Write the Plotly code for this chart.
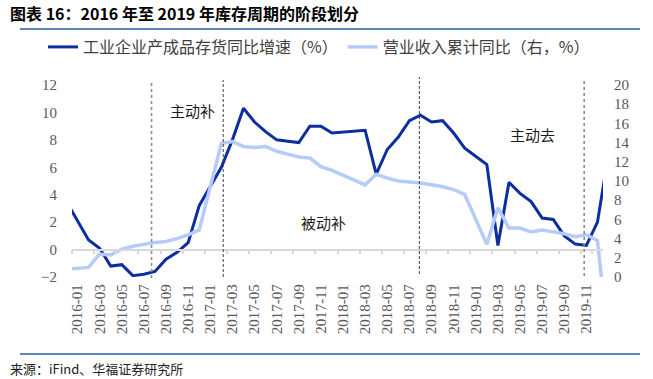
import plotly.graph_objects as go

# ---------------- data ----------------
months = [
    "2015-12",
    "2016-01", "2016-02", "2016-03", "2016-04", "2016-05", "2016-06",
    "2016-07", "2016-08", "2016-09", "2016-10", "2016-11", "2016-12",
    "2017-01", "2017-02", "2017-03", "2017-04", "2017-05", "2017-06",
    "2017-07", "2017-08", "2017-09", "2017-10", "2017-11", "2017-12",
    "2018-01", "2018-02", "2018-03", "2018-04", "2018-05", "2018-06",
    "2018-07", "2018-08", "2018-09", "2018-10", "2018-11", "2018-12",
    "2019-01", "2019-02", "2019-03", "2019-04", "2019-05", "2019-06",
    "2019-07", "2019-08", "2019-09", "2019-10", "2019-11", "2019-12",
    "2020-01", "2020-02",
]

# 工业企业产成品存货同比增速（%）  (no January releases -> None)
inventory_yoy = [
    3.5,
    None, 0.7, 0.1, -1.2, -1.1, -1.9, -1.8, -1.6, -0.7, -0.2, 0.5, 3.2,
    None, 6.0, 8.0, 10.3, 9.3, 8.6, 8.0, 7.9, 7.8, 9.0, 9.0, 8.5,
    None, 8.6, 8.7, 5.5, 7.3, 8.2, 9.4, 9.8, 9.3, 9.4, 8.5, 7.4,
    None, 6.2, 0.3, 4.9, 4.1, 3.5, 2.3, 2.2, 1.0, 0.4, 0.3, 2.0,
    None, 12.0,
]

# 营业收入累计同比（右，%）
revenue_cum_yoy = [
    0.8,
    None, 1.0, 2.4, 2.3, 2.9, 3.2, 3.4, 3.6, 3.7, 4.0, 4.4, 4.9,
    None, 13.9, 14.1, 13.6, 13.5, 13.6, 13.1, 12.8, 12.5, 12.4, 11.5, 11.1,
    None, 10.1, 9.6, 10.7, 10.3, 10.0, 9.9, 9.8, 9.6, 9.4, 9.1, 8.6,
    None, 3.4, 7.2, 5.1, 5.1, 4.7, 4.9, 4.7, 4.5, 4.2, 4.4, 3.8,
    None, -17.7,
]

tick_labels = [
    "2016-01", "2016-03", "2016-05", "2016-07", "2016-09", "2016-11",
    "2017-01", "2017-03", "2017-05", "2017-07", "2017-09", "2017-11",
    "2018-01", "2018-03", "2018-05", "2018-07", "2018-09", "2018-11",
    "2019-01", "2019-03", "2019-05", "2019-07", "2019-09", "2019-11",
]

series_names = ["工业企业产成品存货同比增速（%）", "营业收入累计同比（右，%）"]
phase_labels = ["主动补", "被动补", "主动去"]
title_text = "图表 16：2016 年至 2019 年库存周期的阶段划分"
source_text = "来源：iFind、华福证券研究所"

# ---------------- style ----------------
DARK_BLUE = "#0B2FA0"
LIGHT_BLUE = "#B7CBFA"
GRAY_TXT = "#595959"
AXIS_GRAY = "#D9D9D9"
RULE_BLUE = "#2A5CAA"
SERIF = "Liberation Serif"
CJK = "Noto Sans CJK SC"

W, H = 653, 379
PLOT_L, PLOT_R, PLOT_T, PLOT_B = 72, 603, 85, 277   # plot area in pixels
RULE_X = (20, 640)
RULE_Y = (29, 354)


def fx(px):
    return px / W


def fy(py):
    return 1 - py / H


Y_LO, Y_HI = -2, 12
zero_pos = fy(PLOT_B) + (0 - Y_LO) / (Y_HI - Y_LO) * (fy(PLOT_T) - fy(PLOT_B))

fig = go.Figure()
# decorative header/footer rules on a full-page pixel overlay
fig.add_trace(go.Scatter(
    x=[RULE_X[0], RULE_X[1], None, RULE_X[0], RULE_X[1]],
    y=[RULE_Y[0], RULE_Y[0], None, RULE_Y[1], RULE_Y[1]],
    mode="lines", line=dict(color=RULE_BLUE, width=1.6),
    xaxis="x3", yaxis="y3", showlegend=False, hoverinfo="skip",
))
fig.add_trace(go.Scatter(
    x=months, y=revenue_cum_yoy, name=series_names[1], mode="lines",
    line=dict(color=LIGHT_BLUE, width=3.5), connectgaps=True, yaxis="y2",
    legendrank=2,
))
fig.add_trace(go.Scatter(
    x=months, y=inventory_yoy, name=series_names[0], mode="lines",
    line=dict(color=DARK_BLUE, width=3), connectgaps=True, yaxis="y",
    legendrank=1,
))

# phase boundary lines (category index positions, pixel extents)
phase_lines = [
    (7.69, 278, 83, "#8C8C8C", "dot", 1.6),
    (14.17, 277, 80, "#404040", "3px,2px", 1),
    (31.90, 274, 77, "#404040", "3px,2px", 1),
    (46.80, 276, 80, "#8C8C8C", "dot", 1.6),
]
for xv, pb, pt, col, dash, wd in phase_lines:
    fig.add_shape(type="line", xref="x", yref="paper", x0=xv, x1=xv,
                  y0=fy(pb), y1=fy(pt), line=dict(color=col, dash=dash, width=wd))

annotations = [
    dict(text=phase_labels[0], x=fx(193), y=fy(110)),
    dict(text=phase_labels[1], x=fx(323), y=fy(222)),
    dict(text=phase_labels[2], x=fx(532), y=fy(134)),
]
for a in annotations:
    a.update(xref="paper", yref="paper", showarrow=False,
             font=dict(family=CJK, size=15, color="#1A1A1A"),
             xanchor="center", yanchor="middle")
annotations.append(dict(text="<b>" + title_text + "</b>", xref="paper", yref="paper",
                        x=fx(8), y=fy(13), xanchor="left", yanchor="middle",
                        showarrow=False, font=dict(family=CJK, size=16, color="#000000")))
annotations.append(dict(text=source_text, xref="paper", yref="paper",
                        x=fx(8), y=fy(368), xanchor="left", yanchor="middle",
                        showarrow=False, font=dict(family=CJK, size=13, color="#222222")))

fig.update_layout(
    template="none",
    width=W, height=H,
    margin=dict(l=0, r=0, t=0, b=0, pad=0),
    paper_bgcolor="white", plot_bgcolor="rgba(0,0,0,0)",
    showlegend=True,
    legend=dict(orientation="h", x=fx(43), y=fy(47), xanchor="left", yanchor="middle",
                font=dict(family=CJK, size=16, color="#404040"),
                traceorder="normal", itemwidth=30,
                bgcolor="rgba(0,0,0,0)"),
    xaxis=dict(
        type="category", range=[0.5, 48.5], domain=[fx(PLOT_L), fx(PLOT_R)],
        anchor="free", position=zero_pos,
        tickmode="array", tickvals=tick_labels, ticktext=tick_labels,
        tickson="boundaries", ticks="outside", ticklen=4, tickcolor=AXIS_GRAY, tickwidth=1.5,
        showline=True, linecolor=AXIS_GRAY, linewidth=1.5, showgrid=False, zeroline=False,
        tickangle=-90, ticklabelstandoff=28,
        tickfont=dict(family=SERIF, size=15, color=GRAY_TXT), automargin=False,
    ),
    yaxis=dict(
        range=[Y_LO, Y_HI], dtick=2, tick0=0, domain=[fy(PLOT_B), fy(PLOT_T)],
        anchor="x", showgrid=False, zeroline=False, showline=False,
        ticks="", ticklabelstandoff=14,
        tickfont=dict(family=SERIF, size=15, color=GRAY_TXT), automargin=False,
    ),
    yaxis2=dict(
        range=[0, 20], dtick=2, tick0=0, overlaying="y", side="right", anchor="x",
        showgrid=False, zeroline=False, showline=False, ticks="", ticklabelstandoff=10,
        tickfont=dict(family=SERIF, size=15, color=GRAY_TXT), automargin=False,
    ),
    xaxis3=dict(domain=[0, 1], range=[0, W], anchor="y3", visible=False, fixedrange=True),
    yaxis3=dict(domain=[0, 1], range=[H, 0], anchor="x3", visible=False, fixedrange=True),
    annotations=annotations,
)

fig.write_html("out.html", config={"displayModeBar": False},
               post_script="document.body.style.margin='0';")
